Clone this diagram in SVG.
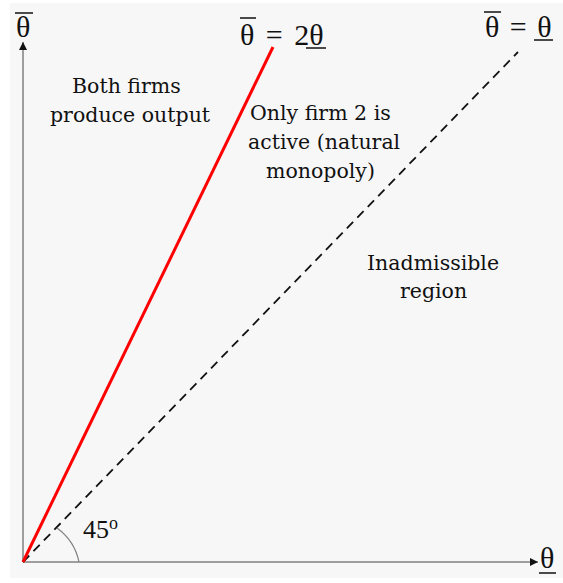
<svg xmlns="http://www.w3.org/2000/svg" width="563" height="583" viewBox="0 0 563 583">
<defs>
<style>
.dg-word{font-family:"DejaVu Serif","Liberation Serif",serif;font-size:20.5px;fill:#111}
.dg-num{font-family:"Liberation Serif","Times New Roman",serif;font-size:26px;fill:#111}
.dg-sym{font-family:"Liberation Serif","Times New Roman",serif;font-size:30px;fill:#111}
.dg-axis{stroke:#808080;stroke-width:1.5;fill:none}
.dg-bar{stroke:#111;stroke-width:1.5}
</style>
<marker id="ah" viewBox="0 0 10 10" refX="10" refY="5" markerWidth="10" markerHeight="8" markerUnits="userSpaceOnUse" orient="auto">
<path d="M0,0 L10,5 L0,10 z" fill="#111"/>
</marker>
</defs>
<rect x="0" y="0" width="563" height="583" fill="#ffffff"/>
<rect x="10" y="3" width="553" height="575" fill="#f7f7f7"/>
<g id="connectors">
<line class="dg-axis" x1="23" y1="562" x2="23" y2="42" marker-end="url(#ah)"/>
<line class="dg-axis" x1="23" y1="562" x2="538" y2="562" marker-end="url(#ah)"/>
<line x1="23" y1="562" x2="518" y2="52" stroke="#111" stroke-width="1.8" stroke-dasharray="9,6"/>
<line x1="23" y1="562" x2="273" y2="47" stroke="#ff0000" stroke-width="3"/>
<path d="M79,562 A56,56 0 0 0 57,528" fill="none" stroke="#808080" stroke-width="1.2"/>
</g>
<g id="ylabel">
<text class="dg-sym" x="16" y="37">θ</text>
<line class="dg-bar" x1="15" y1="13" x2="33" y2="13"/>
</g>
<g id="xlabel">
<text class="dg-sym" x="540" y="568">θ</text>
<line class="dg-bar" x1="539" y1="573" x2="556" y2="573"/>
</g>
<g id="redlabel">
<text class="dg-sym" x="240" y="45" word-spacing="4">θ = 2θ</text>
<line class="dg-bar" x1="240" y1="18" x2="256" y2="18"/>
<line class="dg-bar" x1="306" y1="48" x2="326" y2="48"/>
</g>
<g id="dashlabel">
<text class="dg-sym" x="485" y="37" word-spacing="3">θ = θ</text>
<line class="dg-bar" x1="484" y1="12" x2="501" y2="12"/>
<line class="dg-bar" x1="534" y1="40" x2="553" y2="40"/>
</g>
<g id="angle">
<text class="dg-num" x="83" y="538">45<tspan style="font-size:18px" dy="-9">o</tspan></text>
</g>
<g id="both">
<text class="dg-word" x="72" y="93">Both firms</text>
<text class="dg-word" x="50" y="122">produce output</text>
</g>
<g id="only">
<text class="dg-word" x="250" y="120">Only firm 2 is</text>
<text class="dg-word" x="248" y="149">active (natural</text>
<text class="dg-word" x="266" y="178">monopoly)</text>
</g>
<g id="inadmissible">
<text class="dg-word" x="367" y="270">Inadmissible</text>
<text class="dg-word" x="400" y="298">region</text>
</g>
</svg>
